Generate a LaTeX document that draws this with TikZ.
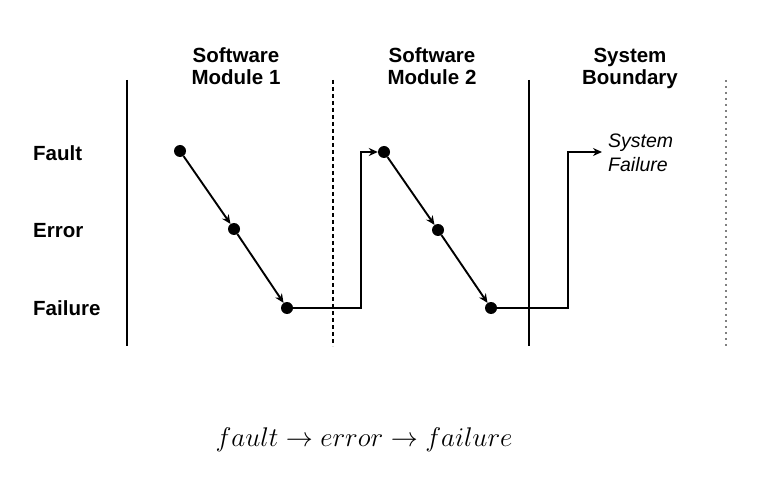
\RequirePackage{fix-cm}
\documentclass[tikz,border=0pt]{standalone}
\usepackage{fontspec}
\setmainfont{Liberation Sans}
\usetikzlibrary{arrows.meta}
\begin{document}
\begin{tikzpicture}[x=1pt,y=-1pt,
  dotnode/.style={circle,fill=black,inner sep=0pt,minimum size=12pt},
  flow/.style={line width=1.9pt,-{Stealth[length=9pt,width=8pt]}},
  lbl/.style={font=\fontsize{20.5}{22}\selectfont\bfseries,inner sep=0pt},
  hdr/.style={font=\fontsize{20.5}{22}\selectfont\bfseries,align=center,inner sep=0pt},
  sep/.style={line width=1.9pt},
  sepdash/.style={line width=2pt,dash pattern=on 4pt off 3pt},
  sepdot/.style={line width=2pt,gray,dash pattern=on 1.8pt off 4.2pt}]
\useasboundingbox (0,0) rectangle (768,486);
% separators
\coordinate (s1t) at (127,80); \coordinate (s1b) at (127,346);
\coordinate (s2t) at (333,80); \coordinate (s2b) at (333,346);
\coordinate (s3t) at (529,80); \coordinate (s3b) at (529,346);
\coordinate (s4t) at (726,80); \coordinate (s4b) at (726,346);
\draw[sep] (s1t) -- (s1b);
\draw[sepdash] (s2t) -- (s2b);
\draw[sep] (s3t) -- (s3b);
\draw[sepdot] (s4t) -- (s4b);
% headers
\node[hdr] (h1) at (236,69) {\strut Software\\\strut Module 1};
\node[hdr] (h2) at (432,69) {\strut Software\\\strut Module 2};
\node[hdr] (h3) at (630,69) {\strut System\\\strut Boundary};
% row labels
\node[lbl,anchor=base west] (rfault) at (33,161) {Fault};
\node[lbl,anchor=base west] (rerror) at (33,238) {Error};
\node[lbl,anchor=base west] (rfail) at (33,315) {Failure};
% dots
\node[dotnode] (a1) at (180,151) {};
\node[dotnode] (b1) at (234,229) {};
\node[dotnode] (c1) at (287,308) {};
\node[dotnode] (a2) at (384,152) {};
\node[dotnode] (b2) at (438,230) {};
\node[dotnode] (c2) at (491,308) {};
\node[font=\fontsize{19.5}{23.5}\selectfont\itshape,align=left,anchor=west,inner sep=0pt] (sf) at (608,155) {\strut System\\\strut Failure};
\coordinate (j1) at (361,308);
\coordinate (j2) at (568,308);
% flows
\draw[flow] (a1) -- (b1);
\draw[flow] (b1) -- (c1);
\draw[flow] (c1) -- (j1) |- (a2);
\draw[flow] (a2) -- (b2);
\draw[flow] (b2) -- (c2);
\draw[flow] (c2) -- (j2) -- (568,152) -- ([xshift=-6pt]sf.west |- 0,152);
% formula
\node[font=\fontsize{27}{32}\selectfont] (eq) at (364,440) {$fault \rightarrow error \rightarrow failure$};
\end{tikzpicture}
\end{document}
